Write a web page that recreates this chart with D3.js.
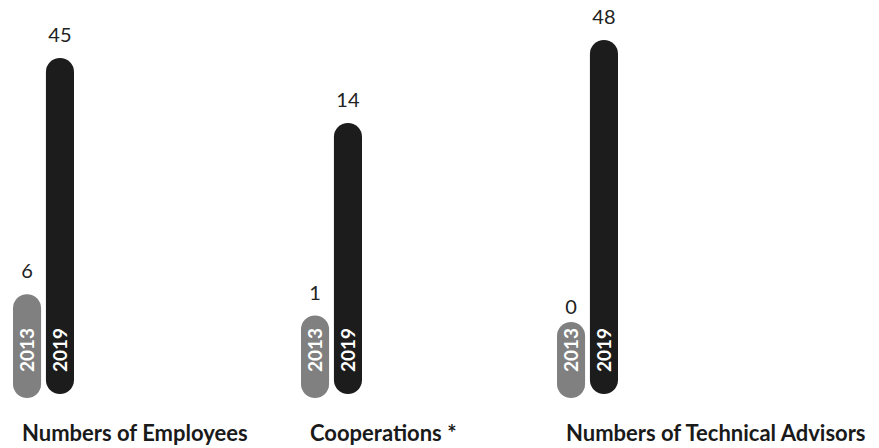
<!DOCTYPE html>
<html>
<head>
<meta charset="utf-8">
<script src="https://cdn.jsdelivr.net/npm/d3@7"></script>
<style>
  html, body { margin: 0; padding: 0; background: #ffffff; }
  svg { display: block; }
</style>
</head>
<body>
<svg id="chart" width="879" height="448"></svg>
<script>
// Data
const categories = ["Numbers of Employees", "Cooperations *", "Numbers of Technical Advisors"];
const years = ["2013", "2019"];
const values2013 = [6, 1, 0];
const values2019 = [45, 14, 48];

// Layout
const W = 879, H = 448;
const groupLeft = [13, 301, 557];
const barW = 26, barGap = 9;
const bottom = { "2013": 398, "2019": 394 };
const minPill = 76;          // shortest pill, leaves room for the year text
const colors = { "2013": "#808080", "2019": "#1c1c1c" };
const fontFamily = "Lato, 'Open Sans', sans-serif";

// Employees and advisors share a scale; cooperations (*) use their own
const hMain = d3.scaleLinear().domain([0, 48]).range([68, 354]);
const hCoop = d3.scaleLinear().domain([0, 14]).range([68, 271]);
const scaleFor = i => (i === 1 ? hCoop : hMain);

const x = d3.scaleBand().domain(years).range([0, 2 * barW + barGap]).paddingInner(barGap / (2 * barW + barGap));

const rows = [];
categories.forEach((c, i) => {
  rows.push({ cat: c, i, year: "2013", value: values2013[i] });
  rows.push({ cat: c, i, year: "2019", value: values2019[i] });
});

const svg = d3.select("#chart");

const groups = svg.selectAll("g.group")
  .data(categories)
  .join("g")
  .attr("class", "group")
  .attr("transform", (d, i) => `translate(${groupLeft[i]},0)`);

groups.each(function (cat, i) {
  const g = d3.select(this);
  const s = scaleFor(i);
  const data = rows.filter(r => r.i === i);

  g.selectAll("rect.bar")
    .data(data)
    .join("rect")
    .attr("class", "bar")
    .attr("x", d => x(d.year))
    .attr("width", x.bandwidth())
    .attr("y", d => bottom[d.year] - Math.max(minPill, s(d.value)))
    .attr("height", d => Math.max(minPill, s(d.value)))
    .attr("rx", x.bandwidth() / 2)
    .attr("ry", x.bandwidth() / 2)
    .attr("fill", d => colors[d.year]);

  // value above each pill
  g.selectAll("text.value")
    .data(data)
    .join("text")
    .attr("class", "value")
    .attr("x", d => x(d.year) + x.bandwidth() / 2)
    .attr("y", d => bottom[d.year] - s(d.value) - 16)
    .attr("text-anchor", "middle")
    .attr("font-family", fontFamily)
    .attr("font-size", 20)
    .attr("fill", "#222222")
    .text(d => d.value);

  // year written up the pill
  g.selectAll("text.year")
    .data(data)
    .join("text")
    .attr("class", "year")
    .attr("transform", d => `translate(${x(d.year) + x.bandwidth() / 2},372) rotate(-90)`)
    .attr("text-anchor", "start")
    .attr("dy", "0.36em")
    .attr("font-family", fontFamily)
    .attr("font-weight", 700)
    .attr("font-size", 19)
    .attr("fill", "#ffffff")
    .text(d => d.year);

  // category title
  g.append("text")
    .attr("class", "title")
    .attr("x", 9)
    .attr("y", 441)
    .attr("font-family", fontFamily)
    .attr("font-weight", 700)
    .attr("font-size", 22)
    .attr("fill", "#1a1a1a")
    .text(cat);
});
</script>
</body>
</html>
